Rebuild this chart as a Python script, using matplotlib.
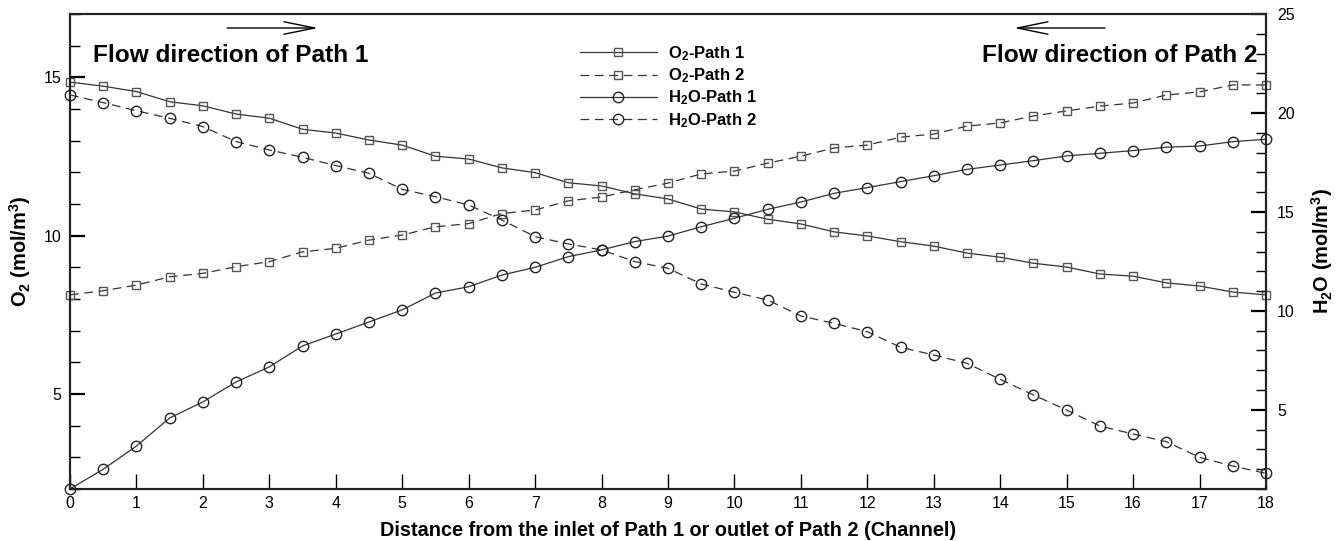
import matplotlib
matplotlib.use("Agg")
import matplotlib.pyplot as plt
from matplotlib.ticker import MultipleLocator

plt.rcParams['font.family'] = ['Liberation Sans', 'DejaVu Sans']
plt.rcParams['mathtext.default'] = 'regular'

# Channel positions (half-channel steps)
distance = [i * 0.5 for i in range(37)]

# O2 concentration (mol/m3), left axis
o2_path1 = [14.85, 14.72, 14.55, 14.23, 14.10, 13.84, 13.71, 13.36, 13.24, 13.02,
            12.86, 12.51, 12.42, 12.14, 11.99, 11.67, 11.57, 11.32, 11.16, 10.84,
            10.75, 10.52, 10.37, 10.12, 9.99, 9.81, 9.67, 9.45, 9.32, 9.13,
            9.01, 8.79, 8.72, 8.51, 8.41, 8.22, 8.13]
o2_path2 = [8.13, 8.26, 8.44, 8.70, 8.81, 9.02, 9.18, 9.49, 9.60, 9.86,
            10.02, 10.28, 10.38, 10.70, 10.81, 11.10, 11.22, 11.45, 11.66, 11.95,
            12.04, 12.29, 12.51, 12.77, 12.86, 13.11, 13.21, 13.46, 13.56, 13.78,
            13.94, 14.09, 14.19, 14.44, 14.54, 14.76, 14.76]

# H2O concentration (mol/m3), right axis
h2o_path1 = [1.00, 2.00, 3.17, 4.59, 5.40, 6.41, 7.17, 8.23, 8.83, 9.44,
             10.05, 10.90, 11.22, 11.81, 12.20, 12.74, 13.08, 13.50, 13.78, 14.25,
             14.68, 15.13, 15.50, 15.94, 16.23, 16.53, 16.83, 17.15, 17.37, 17.59,
             17.83, 17.96, 18.10, 18.27, 18.33, 18.55, 18.67]
h2o_path2 = [20.91, 20.52, 20.11, 19.73, 19.31, 18.55, 18.13, 17.76, 17.34, 16.95,
             16.14, 15.77, 15.35, 14.59, 13.75, 13.38, 13.08, 12.49, 12.15, 11.36,
             10.94, 10.55, 9.74, 9.37, 8.95, 8.16, 7.77, 7.35, 6.54, 5.75,
             4.99, 4.18, 3.78, 3.39, 2.60, 2.16, 1.79]

labels = [r'O$_2$-Path 1', r'O$_2$-Path 2', r'H$_2$O-Path 1', r'H$_2$O-Path 2']

fig = plt.figure(figsize=(13.42, 5.41), dpi=100)
ax = fig.add_axes([70 / 1342, 1 - 489 / 541, (1266 - 70) / 1342, (489 - 14) / 541])
ax2 = ax.twinx()

line_col = '#333333'
dash = (0, (7, 4.5))
sq = dict(marker='s', markersize=6, markerfacecolor='none', markeredgecolor='#555555',
          markeredgewidth=1.0, clip_on=False)
ci = dict(marker='o', markersize=7.5, markerfacecolor='none', markeredgecolor='#222222',
          markeredgewidth=1.0, clip_on=False)

l1, = ax.plot(distance, o2_path1, color=line_col, lw=0.9, ls='-', **sq)
l2, = ax.plot(distance, o2_path2, color=line_col, lw=0.9, ls=dash, **sq)
l3, = ax2.plot(distance, h2o_path1, color=line_col, lw=0.9, ls='-', **ci)
l4, = ax2.plot(distance, h2o_path2, color=line_col, lw=0.9, ls=dash, **ci)

ax.set_xlim(0, 18)
ax.set_ylim(2, 17)
ax2.set_ylim(1, 25)

ax.xaxis.set_major_locator(MultipleLocator(1))
ax.yaxis.set_major_locator(MultipleLocator(5))
ax.yaxis.set_minor_locator(MultipleLocator(1))
ax2.yaxis.set_major_locator(MultipleLocator(5))
ax2.yaxis.set_minor_locator(MultipleLocator(1))

ax.tick_params(axis='both', which='major', direction='in', length=11, width=1.6,
               labelsize=11.5, colors='black', pad=6)
ax.tick_params(axis='x', which='major', width=1.0, pad=5)
ax.tick_params(axis='y', which='minor', direction='in', length=7, width=1.0)
ax.tick_params(axis='y', which='both', right=False)
ax.tick_params(axis='x', which='both', top=False)
ax2.tick_params(axis='y', which='major', direction='in', length=11, width=1.6,
                labelsize=11.5, pad=8)
ax2.tick_params(axis='y', which='minor', direction='in', length=7, width=1.0)

for a in (ax, ax2):
    for s in a.spines.values():
        s.set_linewidth(1.5)
        s.set_color('#222222')

ax.set_xlabel('Distance from the inlet of Path 1 or outlet of Path 2 (Channel)',
              fontsize=14.3, fontweight='bold', labelpad=7)
ax.set_ylabel(r'O$_2$ (mol/m$^3$)', fontsize=14.4, fontweight='bold', labelpad=8)
ax2.set_ylabel(r'H$_2$O (mol/m$^3$)', fontsize=14.4, fontweight='bold', labelpad=10,
               rotation=90)

# Flow direction annotations
fig.text(93 / 1342, 1 - 55 / 541, 'Flow direction of Path 1', fontsize=17.6,
         fontweight='bold', ha='left', va='center')
fig.text(1257 / 1342, 1 - 55 / 541, 'Flow direction of Path 2', fontsize=17.6,
         fontweight='bold', ha='right', va='center')
arrow = dict(arrowstyle='->,head_length=2.2,head_width=0.45', lw=1.0, color='black',
             shrinkA=0, shrinkB=0)
ax.annotate('', xy=(318 / 1342, 1 - 28 / 541), xytext=(227 / 1342, 1 - 28 / 541),
            xycoords='figure fraction', textcoords='figure fraction', arrowprops=arrow,
            annotation_clip=False)
ax.annotate('', xy=(1014 / 1342, 1 - 28 / 541), xytext=(1105 / 1342, 1 - 28 / 541),
            xycoords='figure fraction', textcoords='figure fraction', arrowprops=arrow,
            annotation_clip=False)

leg = ax2.legend([l1, l2, l3, l4], labels, loc='upper left',
                 bbox_to_anchor=(580 / 1342, 1 - 44 / 541),
                 bbox_transform=fig.transFigure, frameon=False,
                 prop=dict(size=12, weight='bold'), handlelength=4.6,
                 handletextpad=0.7, labelspacing=0.22, borderpad=0, borderaxespad=0)

fig.savefig('out.png', dpi=100)
